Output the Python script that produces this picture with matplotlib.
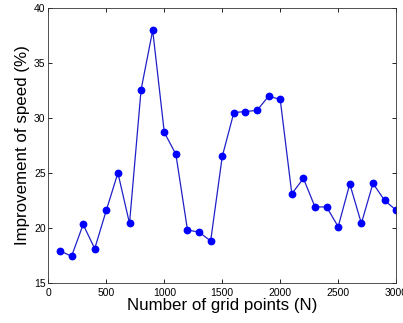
import matplotlib

matplotlib.use("Agg")
import matplotlib.pyplot as plt  # noqa: E402

plt.rcParams["font.family"] = ["Liberation Sans", "DejaVu Sans"]

# grid size N and measured speed improvement (%)
grid_points = [100, 200, 300, 400, 500, 600, 700, 800, 900, 1000,
               1100, 1200, 1300, 1400, 1500, 1600, 1700, 1800, 1900, 2000,
               2100, 2200, 2300, 2400, 2500, 2600, 2700, 2800, 2900, 3000]
improvement = [17.9, 17.4, 20.3, 18.1, 21.6, 25.0, 20.4, 32.6, 38.0, 28.7,
               26.7, 19.8, 19.6, 18.8, 26.5, 30.5, 30.6, 30.7, 32.0, 31.7,
               23.1, 24.5, 21.9, 21.9, 20.1, 24.0, 20.4, 24.05, 22.5, 21.6]
x_ticks = [0, 500, 1000, 1500, 2000, 2500, 3000]
y_ticks = [15, 20, 25, 30, 35, 40]

fig = plt.figure(figsize=(4.03, 3.23), dpi=100)
ax = fig.add_axes([0.120, 0.125, 0.863, 0.849])

ax.plot(grid_points, improvement, color="#2020c8", linewidth=0.9,
        marker="o", markersize=4.6, markerfacecolor="#0000ff",
        markeredgecolor="#0000ff")

ax.set_xlim(0, 3000)
ax.set_ylim(15, 40)
ax.set_xticks(x_ticks)
ax.set_yticks(y_ticks)
ax.tick_params(direction="in", top=True, right=True, labelsize=7.5,
               length=3, width=0.6)
ax.tick_params(axis="x", pad=4)
ax.tick_params(axis="y", pad=2)
for s in ax.spines.values():
    s.set_linewidth(0.6)
    s.set_color("#333333")

ax.set_xlabel("Number of grid points (N)", fontsize=12.2, labelpad=0)
ax.set_ylabel("Improvement of speed (%)", fontsize=12.2, labelpad=3)

fig.savefig("out.png", dpi=100)
